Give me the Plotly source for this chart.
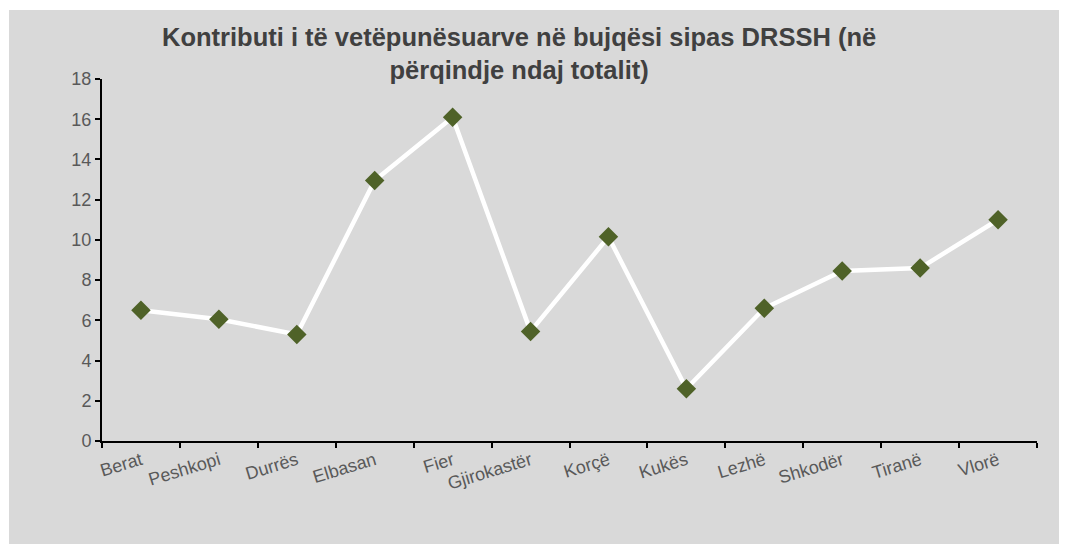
import plotly.graph_objects as go

categories = ["Berat", "Peshkopi", "Durrës", "Elbasan", "Fier", "Gjirokastër",
              "Korçë", "Kukës", "Lezhë", "Shkodër", "Tiranë", "Vlorë"]
values = [6.5, 6.05, 5.3, 12.95, 16.1, 5.45, 10.15, 2.6, 6.6, 8.45, 8.6, 11.0]
y_ticks = [0, 2, 4, 6, 8, 10, 12, 14, 16, 18]
title_text = "<b>Kontributi i të vetëpunësuarve në bujqësi sipas DRSSH (në<br>përqindje ndaj totalit)</b>"

# page body has an 8px margin; figure coords = screen coords - 8
W, H = 1059, 537
L, R, T, B = 94, 30, 71, 104
pw, ph = W - L - R, H - T - B

def px_x(x):
    return (x - L) / pw

def px_y(y):
    return (H - B - y) / ph

fig = go.Figure()
fig.add_trace(go.Scatter(
    x=categories, y=values, mode="lines+markers",
    line=dict(color="white", width=4.5),
    marker=dict(symbol="diamond", size=15, color="#4f6228"),
    showlegend=False, cliponaxis=False,
))

fig.update_layout(
    width=W, height=H,
    margin=dict(l=L, r=R, t=T, b=B),
    paper_bgcolor="white",
    plot_bgcolor="rgba(0,0,0,0)",
    font=dict(family="Liberation Sans, Arial", color="#595959", size=18),
    annotations=[dict(
        text=title_text, showarrow=False,
        xref="paper", yref="paper",
        x=px_x(511), y=px_y(45), xanchor="center", yanchor="middle",
        font=dict(size=25.5, color="#404040", family="Liberation Sans, Arial"),
    )],
    shapes=[dict(
        type="rect", xref="paper", yref="paper", layer="below",
        x0=px_x(1), x1=px_x(1062), y0=px_y(536), y1=px_y(2),
        fillcolor="#d9d9d9", line=dict(width=0),
    )],
    xaxis=dict(
        type="category", showgrid=False, zeroline=False,
        showline=True, linecolor="black", linewidth=2,
        ticks="outside", tickson="boundaries", ticklen=5, tickwidth=2, tickcolor="black",
        tickangle=-17, tickfont=dict(size=18, color="#595959"),
        range=[-0.5, 11.5],
    ),
    yaxis=dict(
        range=[0, 18], tickvals=y_ticks, showgrid=False, zeroline=False,
        showline=True, linecolor="black", linewidth=2,
        ticks="outside", ticklen=5, tickwidth=2, tickcolor="black",
        tickfont=dict(size=18, color="#595959"),
    ),
)

fig.write_html("out.html")
